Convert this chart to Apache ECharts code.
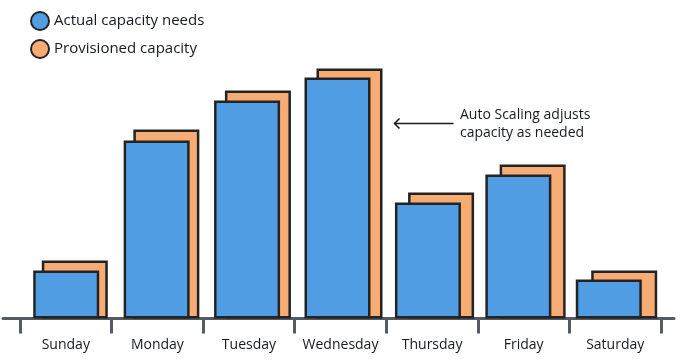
<!DOCTYPE html>
<html>
<head>
<meta charset="utf-8">
<script src="https://cdn.jsdelivr.net/npm/echarts@6/dist/echarts.min.js"></script>
<style>html,body{margin:0;padding:0;background:#fff}#c{width:680px;height:364px}</style>
</head>
<body>
<div id="c"></div>
<script>
const categories = ['Sunday','Monday','Tuesday','Wednesday','Thursday','Friday','Saturday'];
const actualNeeds = [48, 178, 218, 241, 116, 144, 39];
const provisioned = [58, 189, 228, 250, 126, 154, 48];
const seriesNames = ['Actual capacity needs', 'Provisioned capacity'];
const annotationLines = ['Auto Scaling adjusts', 'capacity as needed'];

const FONT = 'Open Sans';
const TEXT = '#16191f';
const AXIS = '#545b64';
const BLUE = '#519de3';
const ORANGE = '#f7ac74';
const EDGE = '#232323';

const chart = echarts.init(document.getElementById('c'), null, {renderer: 'canvas'});
const gTop = 18.5, gBottom = 45.5, vMax = 300;
const grids = [
  {left: 3, width: 671},
  {left: 20, width: 641},
  {left: 29, width: 641},
  {left: 21, width: 633}
].map(g => Object.assign({top: gTop, bottom: gBottom}, g));

const xAxes = grids.map((g, i) => ({
  type: 'category', gridIndex: i, data: categories, boundaryGap: true,
  axisLine: {show: i === 0, lineStyle: {color: AXIS, width: 3}},
  axisTick: {show: i === 1, interval: 0, length: 15, lineStyle: {color: AXIS, width: 3}},
  axisLabel: {show: i === 1, interval: 0, margin: 20, color: TEXT, fontFamily: FONT, fontSize: 14},
  splitLine: {show: false}
}));
const yAxes = grids.map((g, i) => ({type: 'value', gridIndex: i, min: 0, max: vMax, show: false}));

chart.setOption({
  animation: false,
  textStyle: {fontFamily: FONT},
  grid: grids,
  xAxis: xAxes,
  yAxis: yAxes,
  legend: {
    orient: 'vertical', left: 25, top: 6, icon: 'circle',
    itemWidth: 18, itemHeight: 18, itemGap: 8, itemTextGap: 9,
    selectedMode: false,
    data: seriesNames,
    textStyle: {color: TEXT, fontFamily: FONT, fontSize: 15, lineHeight: 18}
  },
  series: [
    {
      name: seriesNames[1], type: 'bar', xAxisIndex: 2, yAxisIndex: 2, z: 1,
      barWidth: 66, data: provisioned,
      itemStyle: {color: ORANGE, borderColor: EDGE, borderWidth: 2.5}
    },
    {
      name: seriesNames[0], type: 'bar', xAxisIndex: 3, yAxisIndex: 3, z: 2,
      barWidth: 66, data: actualNeeds,
      itemStyle: {color: BLUE, borderColor: EDGE, borderWidth: 2.5}
    }
  ],
  graphic: [
    {
      type: 'group', left: 392, top: 116,
      children: [
        {type: 'line', shape: {x1: 1, y1: 7, x2: 60, y2: 7}, style: {stroke: TEXT, lineWidth: 1.5}},
        {type: 'polyline', shape: {points: [[6, 2], [1, 7], [6, 12]]}, style: {stroke: TEXT, lineWidth: 1.5, fill: null}}
      ]
    },
    {
      type: 'text', left: 460, top: 106,
      style: {text: annotationLines.join('\n'), fill: TEXT, font: '14px "' + FONT + '"', lineHeight: 18}
    }
  ]
});
</script>
</body>
</html>
